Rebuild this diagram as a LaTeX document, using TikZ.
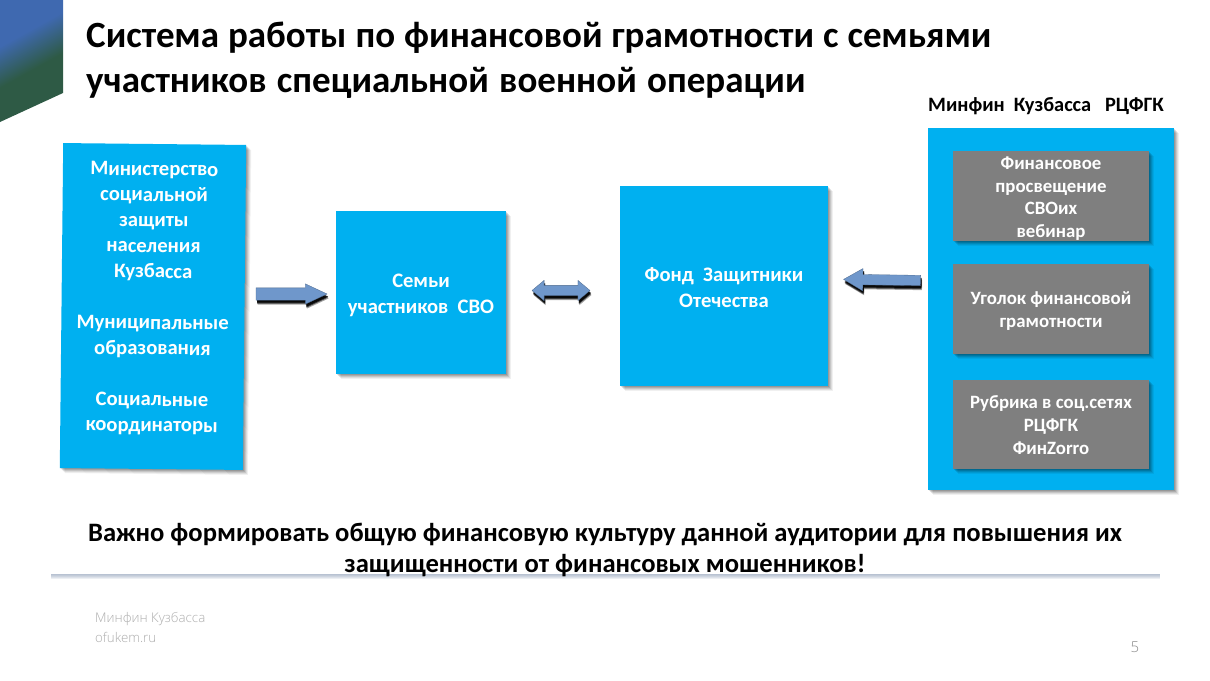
\documentclass[tikz,border=0pt]{standalone}
\usepackage{fontspec}
\setmainfont{Carlito}
\newfontfamily\footfont{Open Sans Light}
\usetikzlibrary{calc,shadows,shapes.arrows}
\definecolor{skyblock}{HTML}{00B0F0}
\definecolor{greyblock}{HTML}{7F7F7F}
\definecolor{arrowblue}{HTML}{6F97CB}
\definecolor{cornerblue}{HTML}{3F69B0}
\definecolor{cornergreen}{HTML}{2E5A45}
\definecolor{bandshadow}{HTML}{7E8FAE}
\pgfdeclareverticalshading{cornershade}{100bp}{color(0bp)=(cornergreen); color(46bp)=(cornergreen); color(64bp)=(cornerblue); color(100bp)=(cornerblue)}
\tikzset{
	softstep/.style n args={3}{general shadow={shadow xshift=#1, shadow yshift=-#2, fill=black, opacity=#3}},
	blockshadow/.style={softstep={5pt}{5pt}{0.06}, softstep={4pt}{4pt}{0.08}, softstep={3pt}{3pt}{0.1}, softstep={2pt}{2pt}{0.12}, softstep={1pt}{1pt}{0.12}},
	arrowshadow/.style={softstep={1.5pt}{4.5pt}{0.35}, softstep={1pt}{3.5pt}{0.6}, softstep={1pt}{2.5pt}{0.85}},
	bandsteps/.style={general shadow={shadow yshift=-#1, fill=bandshadow, opacity=0.14}},
	bluebox/.style={inner sep=0pt, fill=skyblock, blockshadow},
	greybox/.style={inner sep=0pt, fill=greyblock, minimum width=196pt, blockshadow},
	bluetext/.style={inner sep=0pt, text=white, align=center, font=\bfseries\fontsize{20.6}{25.6}\selectfont},
	greytext/.style={inner sep=0pt, text=white, align=center, font=\bfseries\fontsize{18.8}{22.6}\selectfont},
	blockarrow/.style={single arrow, fill=arrowblue, draw=arrowblue!70!black, line width=0.3pt, inner xsep=0pt, arrowshadow},
	twoarrow/.style={double arrow, fill=arrowblue, draw=arrowblue!70!black, line width=0.3pt, inner xsep=0pt, arrowshadow},
	footnote/.style={anchor=west, inner sep=0pt, text=black!32, font=\footfont\fontsize{13.3}{16}\selectfont},
}
\begin{document}
\begin{tikzpicture}[x=1pt, y=-1pt]
	\useasboundingbox (0, 0) rectangle (1210, 680);
	\fill[white] (0, 0) rectangle (1210, 680);

	%%%%% corner %%%%%
	\shade[shading=cornershade, shading angle=29] (0, 0) -- (63, 0) -- (63, 93) -- (0, 122) -- cycle;

	%%%%% title %%%%%
	\node[anchor=west, inner sep=0pt, align=left, font=\bfseries\fontsize{37}{45}\selectfont] (title) at (86, 60) {\spaceskip=9pt Система работы по финансовой грамотности с семьями\\\spaceskip=10.3pt участников специальной военной операции};
	\node[anchor=west, inner sep=0pt, font=\bfseries\fontsize{20.4}{24}\selectfont] (minfin) at (928, 106) {Минфин\ \ Кузбасса\ \ \ РЦФГК};

	%%%%% blocks %%%%%
	\node[bluebox, minimum width=183pt, minimum height=325pt, rotate=-0.6] (sources) at (153, 306.5) {};
	\node[bluetext, rotate=-0.6] (sourcestext) at (153, 298.5) {Министерство\\социальной\\защиты\\населения\\Кузбасса\\[25.6pt]Муниципальные\\образования\\[25.6pt]Социальные\\координаторы};
	\node[bluebox, minimum width=170pt, minimum height=163pt] (families) at (421, 292.5) {};
	\node[bluetext] (familiestext) at (421, 295.5) {Семьи\\участников\ \ СВО};
	\node[bluebox, minimum width=208pt, minimum height=200pt] (fund) at (724, 286) {};
	\node[bluetext] (fundtext) at (724, 287.5) {Фонд\ \ Защитники\\Отечества};
	\node[bluebox, minimum width=246pt, minimum height=362pt] (minfinbox) at (1051, 309) {};

	\node[greybox, minimum height=90pt] (webinar) at (1051, 196) {};
	\node[greytext] (webinartext) at (1051, 198.5) {Финансовое\\просвещение\\СВОих\\вебинар};
	\node[greybox, minimum height=90pt] (corner) at (1051, 309) {};
	\node[greytext] (cornertext) at (1051, 311) {Уголок финансовой\\грамотности};
	\node[greybox, minimum height=89pt] (rubric) at (1051, 424.5) {};
	\node[greytext] (rubrictext) at (1051, 425) {Рубрика в соц.сетях\\РЦФГК\\ФинZorro};

	%%%%% arrows %%%%%
	\node[blockarrow, inner ysep=6pt, minimum height=71pt, single arrow head extend=4pt, single arrow tip angle=50] (toFamilies) at (285, 294) {};
	\node[twoarrow, inner ysep=5pt, minimum height=58pt, double arrow head extend=5pt, double arrow tip angle=80] (familiesFund) at (561, 290.5) {};
	\node[blockarrow, inner ysep=5pt, minimum height=77pt, single arrow head extend=6pt, single arrow tip angle=60, shape border rotate=180, rotate=-0.8] (toFund) at (886.5, 280) {};

	%%%%% bottom %%%%%
	\node[fill=white, minimum width=1109pt, minimum height=61pt, inner sep=0pt, bandsteps=5pt, bandsteps=4pt, bandsteps=3pt, bandsteps=2pt, bandsteps=1pt] (noteband) at (605.5, 543.5) {};
	\node[inner sep=0pt, align=center, font=\bfseries\fontsize{26.6}{31}\selectfont] (note) at (605, 550) {Важно формировать общую финансовую культуру данной аудитории для повышения их\\защищенности от финансовых мошенников!};

	\node[footnote] (footname) at (95, 619) {Минфин Кузбасса};
	\node[footnote] (footsite) at (95, 637) {ofukem.ru};
	\node[inner sep=0pt, text=black!45, font=\footfont\fontsize{15}{18}\selectfont] (pagenum) at (1135, 647) {5};
\end{tikzpicture}
\end{document}
